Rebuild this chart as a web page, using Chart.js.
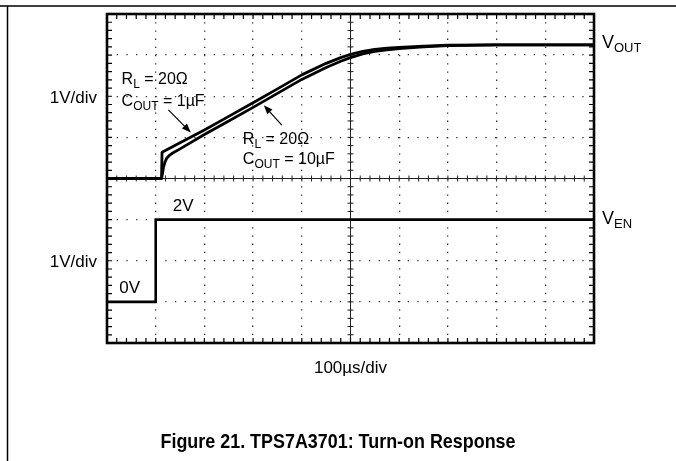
<!DOCTYPE html>
<html>
<head>
<meta charset="utf-8">
<title>TPS7A3701 Turn-on Response</title>
<script src="https://cdn.jsdelivr.net/npm/chart.js@4.4.1/dist/chart.umd.min.js"></script>
<style>
    body { margin: 0; background: #fff; }
    #wrap { width: 676px; height: 461px; }
</style>
</head>
<body>
<div id="wrap"><canvas id="scopeChart" width="676" height="461"></canvas></div>
<script>
// time axis in microseconds (100us/div, 10 divisions)
const xTicks = [0, 100, 200, 300, 400, 500, 600, 700, 800, 900, 1000];
const yDivisions = 8;

// enable pulse, volts (1V/div), 0V sits on division 1
const enTime = [0, 100, 100, 1000];
const enVolts = [0, 0, 2, 2];
const enOffset = 1;

// output, volts (1V/div), 0V sits on the centre line (division 4)
const outOffset = 4;
const out1uTime = [0, 112, 113, 150, 200, 250, 300, 350, 400, 450, 480, 500, 525, 550, 575, 600, 650, 700, 800, 1000];
const out1uVolts = [0, 0, 0.64, 0.87, 1.18, 1.51, 1.84, 2.18, 2.52, 2.8, 2.94, 3.02, 3.09, 3.14, 3.17, 3.19, 3.22, 3.24, 3.25, 3.25];
const out10uTime = [0, 112, 114, 116, 119, 123, 128, 135, 150, 200, 250, 300, 350, 400, 450, 480, 500, 525, 550, 575, 600, 650, 700, 800, 1000];
const out10uVolts = [0, 0, 0.12, 0.27, 0.4, 0.5, 0.56, 0.62, 0.72, 1.07, 1.4, 1.73, 2.07, 2.41, 2.7, 2.85, 2.94, 3.03, 3.09, 3.13, 3.16, 3.2, 3.23, 3.25, 3.25];

function toPoints(times, volts, offset) {
    return times.map((t, i) => ({ x: t, y: volts[i] + offset }));
}

const textFont = '"Liberation Sans", Arial, Helvetica, sans-serif';

function drawSubText(ctx, parts, x, y, size) {
    // parts: [[text, isSub], ...]
    let cx = x;
    parts.forEach(p => {
        if (p[1]) {
            ctx.font = Math.round(size * 0.72) + 'px ' + textFont;
            ctx.fillText(p[0], cx, y + size * 0.3);
        } else {
            ctx.font = size + 'px ' + textFont;
            ctx.fillText(p[0], cx, y);
        }
        cx += ctx.measureText(p[0]).width;
    });
}

function drawArrow(ctx, x0, y0, x1, y1) {
    const ang = Math.atan2(y1 - y0, x1 - x0);
    const len = 9, half = 3.5;
    ctx.lineWidth = 1.2;
    ctx.beginPath();
    ctx.moveTo(x0, y0);
    ctx.lineTo(x1 - Math.cos(ang) * len * 0.8, y1 - Math.sin(ang) * len * 0.8);
    ctx.stroke();
    ctx.beginPath();
    ctx.moveTo(x1, y1);
    ctx.lineTo(x1 - Math.cos(ang) * len - Math.sin(ang) * half, y1 - Math.sin(ang) * len + Math.cos(ang) * half);
    ctx.lineTo(x1 - Math.cos(ang) * len + Math.sin(ang) * half, y1 - Math.sin(ang) * len - Math.cos(ang) * half);
    ctx.closePath();
    ctx.fill();
}

const scopeDecor = {
    id: 'scopeDecor',
    beforeDraw(chart) {
        const ctx = chart.ctx;
        ctx.save();
        ctx.fillStyle = '#fff';
        ctx.fillRect(0, 0, chart.width, chart.height);
        // page rules
        ctx.strokeStyle = '#000';
        ctx.lineWidth = 1.5;
        ctx.beginPath();
        ctx.moveTo(0, 6);
        ctx.lineTo(chart.width, 6);
        ctx.moveTo(7.5, 6);
        ctx.lineTo(7.5, chart.height);
        ctx.stroke();
        ctx.restore();
    },
    beforeDatasetsDraw(chart) {
        const ctx = chart.ctx;
        const xs = chart.scales.x, ys = chart.scales.y;
        const a = chart.chartArea;
        const cx = xs.getPixelForValue(500), cy = ys.getPixelForValue(yDivisions / 2);
        ctx.save();
        ctx.strokeStyle = '#222';
        ctx.lineWidth = 1;
        ctx.beginPath();
        ctx.moveTo(a.left, cy);
        ctx.lineTo(a.right, cy);
        ctx.moveTo(cx, a.top);
        ctx.lineTo(cx, a.bottom);
        for (let t = 0; t <= 1000; t += 20) {
            const px = xs.getPixelForValue(t);
            ctx.moveTo(px, cy - 3);
            ctx.lineTo(px, cy + 3);
        }
        for (let d = 0; d <= yDivisions; d += 0.2) {
            const py = ys.getPixelForValue(d);
            ctx.moveTo(cx - 3, py);
            ctx.lineTo(cx + 3, py);
        }
        ctx.stroke();
        ctx.restore();
    },
    afterDatasetsDraw(chart) {
        const ctx = chart.ctx;
        const xs = chart.scales.x, ys = chart.scales.y;
        const a = chart.chartArea;
        ctx.save();
        ctx.strokeStyle = '#000';
        ctx.fillStyle = '#000';

        // minor ticks on the frame
        ctx.lineWidth = 1.2;
        ctx.beginPath();
        for (let t = 0; t <= 1000; t += 20) {
            const px = xs.getPixelForValue(t);
            ctx.moveTo(px, a.top);
            ctx.lineTo(px, a.top + 5);
            ctx.moveTo(px, a.bottom);
            ctx.lineTo(px, a.bottom - 5);
        }
        for (let d = 0; d <= yDivisions + 0.01; d += 0.2) {
            const py = ys.getPixelForValue(d);
            ctx.moveTo(a.left, py);
            ctx.lineTo(a.left + 5, py);
            ctx.moveTo(a.right, py);
            ctx.lineTo(a.right - 5, py);
        }
        ctx.stroke();

        // frame
        ctx.lineWidth = 2.6;
        ctx.strokeRect(a.left, a.top, a.right - a.left, a.bottom - a.top);

        ctx.textBaseline = 'middle';
        ctx.textAlign = 'left';

        // channel scale labels
        ctx.font = '17px ' + textFont;
        ctx.textAlign = 'right';
        ctx.fillText('1V/div', a.left - 10, ys.getPixelForValue(5.95));
        ctx.fillText('1V/div', a.left - 10, ys.getPixelForValue(1.97));
        ctx.textAlign = 'left';

        // trace names
        drawSubText(ctx, [['V', false], ['OUT', true]], a.right + 8, ys.getPixelForValue(outOffset + out1uVolts[out1uVolts.length - 1]) - 2, 18);
        drawSubText(ctx, [['V', false], ['EN', true]], a.right + 8, ys.getPixelForValue(enOffset + enVolts[enVolts.length - 1]) - 1, 18);

        // level marks for V_EN
        ctx.font = '17px ' + textFont;
        ctx.fillText('0V', xs.getPixelForValue(25), ys.getPixelForValue(1.33));
        ctx.fillText('2V', xs.getPixelForValue(135), ys.getPixelForValue(3.33));

        // curve annotations
        drawSubText(ctx, [['R', false], ['L', true], [' = 20\u03A9', false]], xs.getPixelForValue(30), ys.getPixelForValue(6.4), 16);
        drawSubText(ctx, [['C', false], ['OUT', true], [' = 1\u00B5F', false]], xs.getPixelForValue(30), ys.getPixelForValue(5.86), 16);
        drawSubText(ctx, [['R', false], ['L', true], [' = 20\u03A9', false]], xs.getPixelForValue(279), ys.getPixelForValue(4.94), 16);
        drawSubText(ctx, [['C', false], ['OUT', true], [' = 10\u00B5F', false]], xs.getPixelForValue(279), ys.getPixelForValue(4.45), 16);

        drawArrow(ctx, xs.getPixelForValue(126), ys.getPixelForValue(5.67), xs.getPixelForValue(172), ys.getPixelForValue(5.12));
        drawArrow(ctx, xs.getPixelForValue(359), ys.getPixelForValue(5.3), xs.getPixelForValue(322), ys.getPixelForValue(5.78));

        // time base + caption
        ctx.textAlign = 'center';
        ctx.font = '17px ' + textFont;
        ctx.fillText('100\u00B5s/div', (a.left + a.right) / 2, 368);
        ctx.font = 'bold 21px ' + textFont;
        ctx.fillText('Figure 21. TPS7A3701: Turn-on Response', 338, 442, 355);
        ctx.restore();
    }
};

const traceStyle = {
    borderColor: '#000',
    backgroundColor: '#000',
    pointRadius: 0,
    fill: false,
    tension: 0,
    borderJoinStyle: 'round'
};

new Chart(document.getElementById('scopeChart'), {
    type: 'line',
    data: {
        datasets: [
            { ...traceStyle, label: 'V_EN', data: toPoints(enTime, enVolts, enOffset), borderWidth: 2.6, borderJoinStyle: 'miter' },
            { ...traceStyle, label: 'V_OUT 1uF', data: toPoints(out1uTime, out1uVolts, outOffset), borderWidth: 2.8 },
            { ...traceStyle, label: 'V_OUT 10uF', data: toPoints(out10uTime, out10uVolts, outOffset), borderWidth: 2.8 }
        ]
    },
    options: {
        responsive: false,
        animation: false,
        devicePixelRatio: 1,
        layout: { padding: { left: 107, right: 82, top: 14, bottom: 118 } },
        plugins: {
            legend: { display: false },
            tooltip: { enabled: false }
        },
        scales: {
            x: {
                type: 'linear',
                min: 0,
                max: 1000,
                afterBuildTicks: axis => { axis.ticks = xTicks.map(v => ({ value: v })); },
                ticks: { display: false },
                grid: { color: '#333', lineWidth: 1.3, drawTicks: false },
                border: { display: false, dash: [1.3, 6.9] }
            },
            y: {
                type: 'linear',
                min: 0,
                max: yDivisions,
                ticks: { display: false, stepSize: 1 },
                grid: { color: '#333', lineWidth: 1.3, drawTicks: false },
                border: { display: false, dash: [1.3, 8.4] }
            }
        }
    },
    plugins: [scopeDecor]
});
</script>
</body>
</html>
